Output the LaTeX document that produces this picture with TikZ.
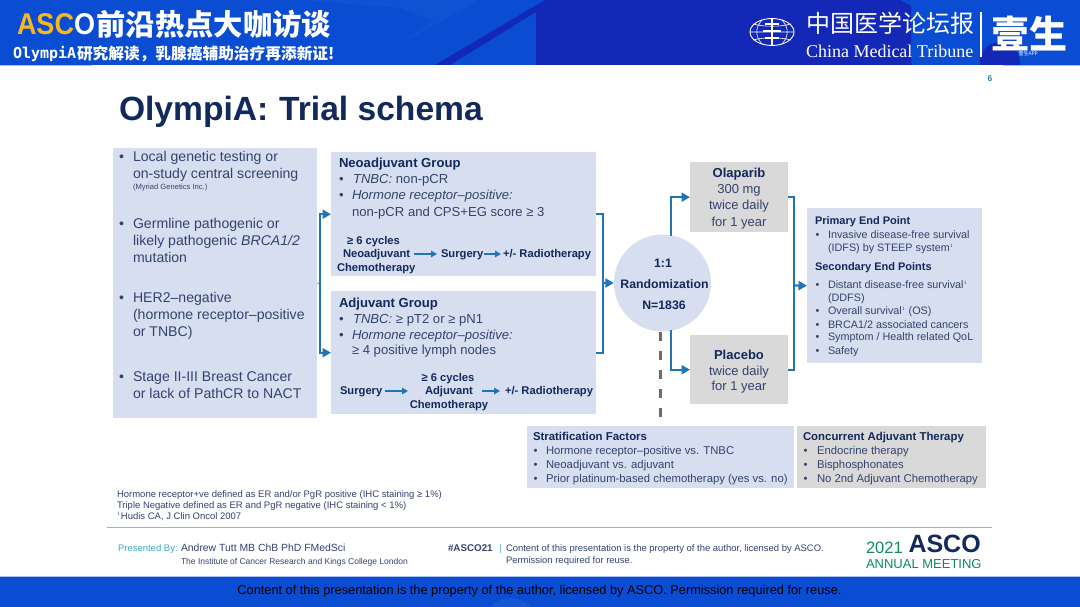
\documentclass[tikz,border=0pt]{standalone}
\usepackage{fontspec}
\setmainfont{Liberation Sans}
\newfontfamily\cjk{Noto Sans CJK SC}
\newfontfamily\serifl{Liberation Serif}
\newfontfamily\monol{DejaVu Sans Mono}
\usetikzlibrary{arrows.meta,shapes.geometric}
\definecolor{hblue}{HTML}{0A4CD2}
\definecolor{hdark}{HTML}{1428B8}
\definecolor{hlight}{HTML}{A9BDF0}
\definecolor{boxblue}{HTML}{D6DEF0}
\definecolor{boxgrey}{HTML}{D9D9D9}
\definecolor{navy}{HTML}{12295C}
\definecolor{bodyc}{HTML}{33436E}
\definecolor{flowc}{HTML}{1F75B8}
\definecolor{teal}{HTML}{3FA9C4}
\definecolor{ascog}{HTML}{0E8A5F}
\definecolor{gold}{HTML}{F7B81E}
\newcounter{tn}
\newcommand\tl[4][]{\stepcounter{tn}\node[linetext,#1] (t\arabic{tn}) at (#2,#3) {#4};}
\newcommand\fs[1]{\fontsize{#1}{#1}\selectfont}
\tikzset{
  linetext/.style={anchor=base west,inner sep=0pt,outer sep=0pt,text=bodyc},
  ctext/.style={linetext,anchor=base},
  head/.style={text=navy,font=\bfseries},
  bluebox/.style={fill=boxblue,draw=none,inner sep=0pt,anchor=north west},
  greybox/.style={fill=boxgrey,draw=none,inner sep=0pt,anchor=north west},
  flow/.style={draw=flowc,line width=2.1pt},
  flowa/.style={flow,-{Triangle[length=8.5pt,width=9pt]}},
  mini/.style={draw=flowc,line width=1.7pt,-{Triangle[length=6pt,width=6.5pt]}},
}
\begin{document}
\begin{tikzpicture}[x=1pt,y=-1pt]
\useasboundingbox (0,0) rectangle (1080,607);
\fill[white] (0,0) rectangle (1080,607);
% header band
\fill[hblue] (0,0) rectangle (1080,65);
\fill[hdark] (545,0) -- (900,0) -- (911,6) -- (911,65) -- (536,65) -- (536,12) -- cycle;
\fill[hdark] (435,65) -- (545,0) -- (536,12) -- (450,65) -- cycle;
\begin{scope}
\clip (0,0) rectangle (1080,65);
\fill[hdark] (1000,62) circle (20pt);
\end{scope}
\fill[white,opacity=.03] (300,0) -- (480,0) -- (400,44) -- (432,21) -- (400,8) -- cycle;
\fill[hlight] (0,65) rectangle (92,66.5);
\fill[hlight] (1003,65) rectangle (1080,66.5);
% footer band
\fill[hblue] (0,577) rectangle (1080,607);
\begin{scope}
\clip (0,577) rectangle (1080,607);
\fill[white,opacity=.05] (510,625) circle (27pt);
\end{scope}
\fill[hlight] (0,576) rectangle (1080,577);
% header texts
\tl[font=\bfseries\fs{30},text=gold]{17}{35}{\scalebox{0.9}[1]{ASC\textcolor{white}{O}}}
\tl[font=\cjk\bfseries\fs{29.3},text=white]{96.5}{35.5}{前沿热点大咖访谈}
\tl[font=\monol\bfseries\fs{15},text=white]{13}{59}{OlympiA}
\tl[font=\cjk\bfseries\fs{15.7},text=white]{77}{59.5}{研究解读，乳腺癌辅助治疗再添新证!}
% logo
\node[ellipse,draw=white,line width=.9pt,minimum width=44pt,minimum height=27pt,inner sep=0pt] (globe) at (772,32) {};
\draw[white,line width=.6pt] (globe.west) -- (globe.east)
  (globe.north) -- (globe.south)
  (753,24) .. controls (765,27) and (779,27) .. (791,24)
  (753,40) .. controls (765,37) and (779,37) .. (791,40)
  (762,20) .. controls (755,28) and (755,36) .. (762,44)
  (782,20) .. controls (789,28) and (789,36) .. (782,44);
\draw[white,line width=2.2pt] (772,19) -- (772,45) (765,24) -- (779,24) (763,31) -- (781,31) (765,38) -- (779,38);
\tl[font=\cjk\fs{24},text=white]{806}{33}{中国医学论坛报}
\tl[font=\serifl\fs{18},text=white]{806}{57.5}{China Medical Tribune}
\draw[white,line width=1.2pt] (981,12) -- (981,57);
\tl[font=\cjk\bfseries\fs{38},text=white]{991}{49}{壹生}
\tl[font=\cjk\fs{5},text=white]{1018.5}{56}{壹生APP}
% page no + title
\tl[font=\bfseries\fs{8.5},text=teal!70!navy]{987.5}{82}{6}
\tl[font=\bfseries\fs{33.6},text=navy]{119}{121}{OlympiA:\hspace{1.5pt} Trial schema}
% boxes
\node[bluebox,minimum width=204pt,minimum height=270pt] (left) at (113,148) {};
\node[bluebox,minimum width=265pt,minimum height=124pt] (neo) at (331,152) {};
\node[bluebox,minimum width=265pt,minimum height=123pt] (adj) at (331,291) {};
\node[greybox,minimum width=98pt,minimum height=70pt] (ola) at (690,162) {};
\node[greybox,minimum width=98pt,minimum height=69pt] (plac) at (690,335) {};
\node[bluebox,minimum width=175pt,minimum height=155pt] (end) at (807,208) {};
\node[bluebox,minimum width=267pt,minimum height=62pt] (strat) at (527,426) {};
\node[greybox,minimum width=189pt,minimum height=62pt] (conc) at (797,426) {};
\node[circle,fill=boxblue,minimum size=97pt,inner sep=0pt] (rand) at (662.5,283) {};
% connectors
\coordinate (brL) at (320,283);
\coordinate (brR) at (603,283);
\coordinate (brE) at (794,285.5);
\coordinate (ru) at (671,236);
\coordinate (rd) at (671,330);
\draw[flowc,line width=.8pt] (left.east) -- (brL);
\draw[flowa] (neo.west -| brL) -- (neo.west);
\draw[flowa] (adj.west -| brL) -- (adj.west);
\draw[flow,line cap=rect] (neo.west -| brL) -- (adj.west -| brL);
\draw[flow] (neo.east) -- (brR |- neo.east) -- (brR |- adj.east) -- (adj.east);
\draw[flowa] (brR) -- (rand.west);
\draw[flowa] (ru) -- (ru |- ola.west) -- (ola.west);
\draw[flowa] (rd) -- (rd |- plac.west) -- (plac.west);
\draw[flow] (ola.east) -- (brE |- ola.east) -- (brE |- plac.east) -- (plac.east);
\draw[flowa] (brE) -- (end.west);
\coordinate (da) at (660,332);
\coordinate (db) at (660,420);
\draw[draw=gray!85!black,line width=3pt,dash pattern=on 9pt off 10pt] (da) -- (db);
% left box
\begin{scope}[every node/.append style={font=\fs{14.1}}]
\tl{119}{162}{•}\tl{133}{162}{Local genetic testing or}
\tl{133}{178.5}{on-study central screening}
\tl[font=\fs{7.6}]{133}{190}{(Myriad Genetics Inc.)}
\tl{119}{229}{•}\tl{133}{229}{Germline pathogenic or}
\tl{133}{245.5}{likely pathogenic \textit{BRCA1/2}}
\tl{133}{262.5}{mutation}
\tl{119}{302}{•}\tl{133}{302}{HER2–negative}
\tl{133}{319}{(hormone receptor–positive}
\tl{133}{336}{or TNBC)}
\tl{119}{381}{•}\tl{133}{381}{Stage II-III Breast Cancer}
\tl{133}{398}{or lack of PathCR to NACT}
\end{scope}
% neo/adj lines
\begin{scope}[every node/.append style={font=\fs{13.1}}]
\tl[head,font=\bfseries\fs{13.1}]{339}{168}{Neoadjuvant Group}
\tl{339}{184}{•}\tl{353}{184}{\textit{TNBC:} non-pCR}
\tl{339}{200}{•}\tl{352}{200}{\textit{Hormone receptor–positive:}}
\tl{352}{216}{non-pCR and CPS+EG score ≥ 3}
\tl[head,font=\bfseries\fs{13.1}]{339}{307}{Adjuvant Group}
\tl{339}{323}{•}\tl{353}{323}{\textit{TNBC:} ≥ pT2 or ≥ pN1}
\tl{339}{339}{•}\tl{352}{339}{\textit{Hormone receptor–positive:}}
\tl{352}{354.5}{≥ 4 positive lymph nodes}
\end{scope}
% flow in neo
\tikzset{minit/.style={linetext,head,font=\bfseries\fs{11.2}}}
\node[minit] (ncyc) at (347,244.5) {≥ 6 cycles};
\node[minit] (nneo) at (343,257.5) {Neoadjuvant};
\node[minit] (nchem) at (337,271.5) {Chemotherapy};
\node[minit] (nsurg) at (441,257.5) {Surgery};
\node[minit] (nrad) at (503,257.5) {+/- Radiotherapy};
\node[minit] (asurg) at (340,394.5) {Surgery};
\node[minit,anchor=base] (acyc) at (448,381) {≥ 6 cycles};
\node[minit,anchor=base] (aadj) at (449,394.5) {Adjuvant};
\node[minit,anchor=base] (achem) at (449,408) {Chemotherapy};
\node[minit] (arad) at (505,394.5) {+/- Radiotherapy};
\coordinate (n1) at (414,254);\coordinate (n2) at (437,254);
\coordinate (n3) at (484,254);\coordinate (n4) at (501,254);
\coordinate (a1) at (385,391);\coordinate (a2) at (408,391);
\coordinate (a3) at (482,391);\coordinate (a4) at (500,391);
\draw[mini] (n1) -- (n2);\draw[mini] (n3) -- (n4);
\draw[mini] (a1) -- (a2);\draw[mini] (a3) -- (a4);
% arm boxes
\node[ctext,head,font=\bfseries\fs{13}] (olat) at (739,178) {Olaparib};
\node[ctext,font=\fs{13}] (ola1) at (739,194) {300 mg};
\node[ctext,font=\fs{13}] (ola2) at (739,210) {twice daily};
\node[ctext,font=\fs{13}] (ola3) at (739,226) {for 1 year};
\node[ctext,head,font=\bfseries\fs{13}] (plat) at (739,359) {Placebo};
\node[ctext,font=\fs{13}] (pla1) at (739,375) {twice daily};
\node[ctext,font=\fs{13}] (pla2) at (739,390.5) {for 1 year};
% circle text
\node[ctext,head,font=\bfseries\fs{12.3}] (r1) at (663,267) {1:1};
\node[ctext,head,font=\bfseries\fs{12.3}] (r2) at (664.5,288) {Randomization};
\node[ctext,head,font=\bfseries\fs{12.3}] (r3) at (664,309) {N=1836};
% end points
\begin{scope}[every node/.append style={font=\fs{10.8}}]
\tl[head,font=\bfseries\fs{11}]{815}{225}{Primary End Point}
\tl{815.5}{238}{•}\tl{828}{238}{Invasive disease-free survival}
\tl{828}{251.5}{(IDFS) by STEEP system$^{\scriptscriptstyle 1}$}
\tl[head,font=\bfseries\fs{11}]{815}{270}{Secondary End Points}
\tl{815.5}{288.5}{•}\tl{828}{288.5}{Distant disease-free survival$^{\scriptscriptstyle 1}$}
\tl{828}{301}{(DDFS)}
\tl{815.5}{314.5}{•}\tl{828}{314.5}{Overall survival$^{\scriptscriptstyle 1}$ (OS)}
\tl{815.5}{328}{•}\tl{828}{328}{BRCA1/2 associated cancers}
\tl{815.5}{340.5}{•}\tl{828}{340.5}{Symptom / Health related QoL}
\tl{815.5}{354}{•}\tl{828}{354}{Safety}
\end{scope}
% bottom boxes
\begin{scope}[every node/.append style={font=\fs{11.3}}]
\tl[head,font=\bfseries\fs{11.4}]{533}{440}{Stratification Factors}
\tl{533.5}{454}{•}\tl{546}{454}{Hormone receptor–positive vs. TNBC}
\tl{533.5}{468.5}{•}\tl{546}{468.5}{Neoadjuvant vs. adjuvant}
\tl{533.5}{482}{•}\tl{546}{482}{Prior platinum-based chemotherapy (yes vs. no)}
\tl[head,font=\bfseries\fs{11.4}]{803}{440}{Concurrent Adjuvant Therapy}
\tl{803.5}{454}{•}\tl{817}{454}{Endocrine therapy}
\tl{803.5}{468.5}{•}\tl{817}{468.5}{Bisphosphonates}
\tl{803.5}{482}{•}\tl{817}{482}{No 2nd Adjuvant Chemotherapy}
\end{scope}
% footnotes
\begin{scope}[every node/.append style={font=\fs{9.5}}]
\tl{117}{497.5}{Hormone receptor+ve defined as ER and/or PgR positive (IHC staining ≥ 1\%)}
\tl{117}{508.5}{Triple Negative defined as ER and PgR negative (IHC staining < 1\%)}
\tl{117}{519.5}{$^{\scriptscriptstyle 1}$Hudis CA, J Clin Oncol 2007}
\end{scope}
\coordinate (rule1) at (107,527);\coordinate (rule2) at (992,527);
\draw[teal!70,line width=.8pt] (rule1) -- (rule2);
\tl[font=\fs{9.5},text=teal]{118}{551.5}{Presented By:}
\tl[font=\fs{10.4}]{181}{551.5}{Andrew Tutt MB ChB PhD FMedSci}
\tl[font=\fs{8.5}]{181}{564}{The Institute of Cancer Research and Kings College London}
\tl[font=\bfseries\fs{9.8}]{448}{551.5}{\#ASCO21}
\tl[font=\fs{9.5},text=teal]{499.5}{551.5}{|}
\tl[font=\fs{9.45}]{506}{551}{Content of this presentation is the property of the author, licensed by ASCO.}
\tl[font=\fs{9.45}]{506}{563}{Permission required for reuse.}
% ASCO logo
\tl[font=\fs{16.5},text=ascog]{866}{553.5}{2021}
\tl[font=\bfseries\fs{25},text=navy]{908.5}{552.5}{ASCO}
\tl[font=\fs{13},text=ascog]{866}{568.5}{ANNUAL MEETING}
% footer text
\node[ctext,text=black,font=\fs{12.77}] (foot) at (539.5,594) {Content of this presentation is the property of the author, licensed by ASCO. Permission required for reuse.};
\end{tikzpicture}
\end{document}
